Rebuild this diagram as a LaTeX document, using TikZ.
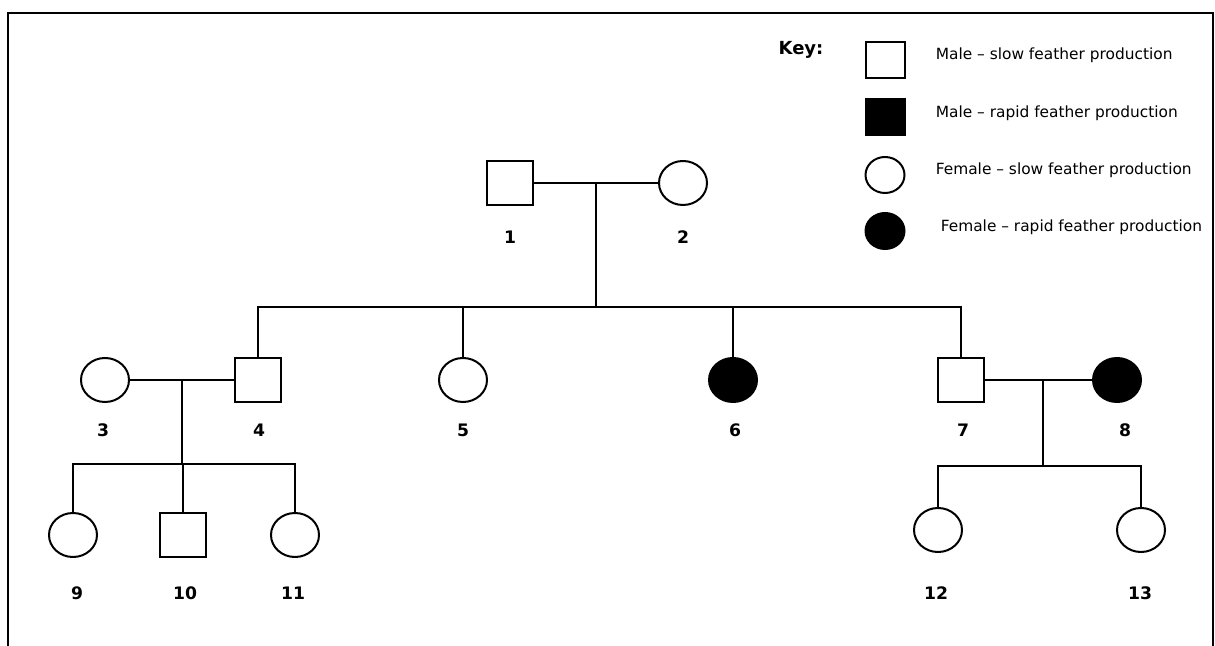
\documentclass[tikz,border=0pt]{standalone}
\usepackage{fontspec}
\setmainfont{DejaVu Sans}
\usetikzlibrary{shapes.geometric}
\begin{document}
\begin{tikzpicture}[x=0.5pt, y=-0.5pt, line width=0.8pt,
        male/.style={draw, line width=1pt, minimum width=23pt, minimum height=22pt, inner sep=0pt},
        female/.style={draw, ellipse, line width=1pt, minimum width=24pt, minimum height=22pt, inner sep=0pt},
        keymale/.style={male, minimum width=19.5pt, minimum height=18pt},
        keyfemale/.style={female, minimum width=19.5pt, minimum height=18pt},
        rapid/.style={fill=black},
        num/.style={font=\fontsize{8.6}{10}\selectfont\bfseries},
        keytext/.style={anchor=west, inner sep=0pt, font=\fontsize{7.7}{9}\selectfont}]
            \useasboundingbox ( 0, 0 ) rectangle ( 1215, 646 );
            \def \yb {307};
            % рамка
            \draw [line width=1pt] ( 8, 646 ) -- ( 8, 13 ) -- ( 1213, 13 ) -- ( 1213, 646 );

            % поколение I
            \node [male] (p1) at ( 510, 183 ) {};
            \node [female] (p2) at ( 683, 183 ) {};
            \coordinate (u12) at ( 596, 183 );
            \coordinate (s12) at ( 596, \yb );
            \draw (p1) -- (p2);
            \draw (u12) -- (s12);
            \node [num] (l1) at ( 510, 237 ) {1};
            \node [num] (l2) at ( 683, 237 ) {2};

            % поколение II
            \node [female] (p3) at ( 105, 380 ) {};
            \node [male] (p4) at ( 258, 380 ) {};
            \node [female] (p5) at ( 463, 380 ) {};
            \node [female, rapid] (p6) at ( 733, 380 ) {};
            \node [male] (p7) at ( 961, 380 ) {};
            \node [female, rapid] (p8) at ( 1117, 380 ) {};
            \draw (p4.north) -- (p4.north |- s12) -- (p7.north |- s12) -- (p7.north);
            \draw (p5.north) -- (p5.north |- s12);
            \draw (p6.north) -- (p6.north |- s12);
            \node [num] (l3) at ( 103, 430 ) {3};
            \node [num] (l4) at ( 259, 430 ) {4};
            \node [num] (l5) at ( 463, 430 ) {5};
            \node [num] (l6) at ( 735, 430 ) {6};
            \node [num] (l7) at ( 963, 430 ) {7};
            \node [num] (l8) at ( 1125, 430 ) {8};

            % поколение III, семья 3 x 4
            \coordinate (u34) at ( 182, 380 );
            \coordinate (s34) at ( 182, 464 );
            \draw (p3) -- (p4);
            \draw (u34) -- (s34);
            \node [female] (p9) at ( 73, 535 ) {};
            \node [male] (p10) at ( 183, 535 ) {};
            \node [female] (p11) at ( 295, 535 ) {};
            \draw (p9.north) -- (p9.north |- s34) -- (p11.north |- s34) -- (p11.north);
            \draw (p10.north) -- (p10.north |- s34);
            \node [num] (l9) at ( 77, 593 ) {9};
            \node [num] (l10) at ( 185, 593 ) {10};
            \node [num] (l11) at ( 293, 593 ) {11};

            % поколение III, семья 7 x 8
            \coordinate (u78) at ( 1043, 380 );
            \coordinate (s78) at ( 1043, 466 );
            \draw (p7) -- (p8);
            \draw (u78) -- (s78);
            \node [female] (p12) at ( 938, 530 ) {};
            \node [female] (p13) at ( 1141, 530 ) {};
            \draw (p12.north) -- (p12.north |- s78) -- (p13.north |- s78) -- (p13.north);
            \node [num] (l12) at ( 936, 593 ) {12};
            \node [num] (l13) at ( 1140, 593 ) {13};

            % обозначения
            \node [num, font=\fontsize{9}{10}\selectfont\bfseries] (key) at ( 801, 50 ) {Key:};
            \node [keymale] (k1) at ( 885, 60 ) {};
            \node [keymale, rapid] (k2) at ( 885, 117 ) {};
            \node [keyfemale] (k3) at ( 885, 175 ) {};
            \node [keyfemale, rapid] (k4) at ( 885, 231 ) {};
            \node [keytext] (t1) at ( 935, 55 ) {Male -- slow feather production};
            \node [keytext] (t2) at ( 935, 113 ) {Male -- rapid feather production};
            \node [keytext] (t3) at ( 935, 170 ) {Female -- slow feather production};
            \node [keytext] (t4) at ( 940, 227 ) {Female -- rapid feather production};
        \end{tikzpicture}
\end{document}
